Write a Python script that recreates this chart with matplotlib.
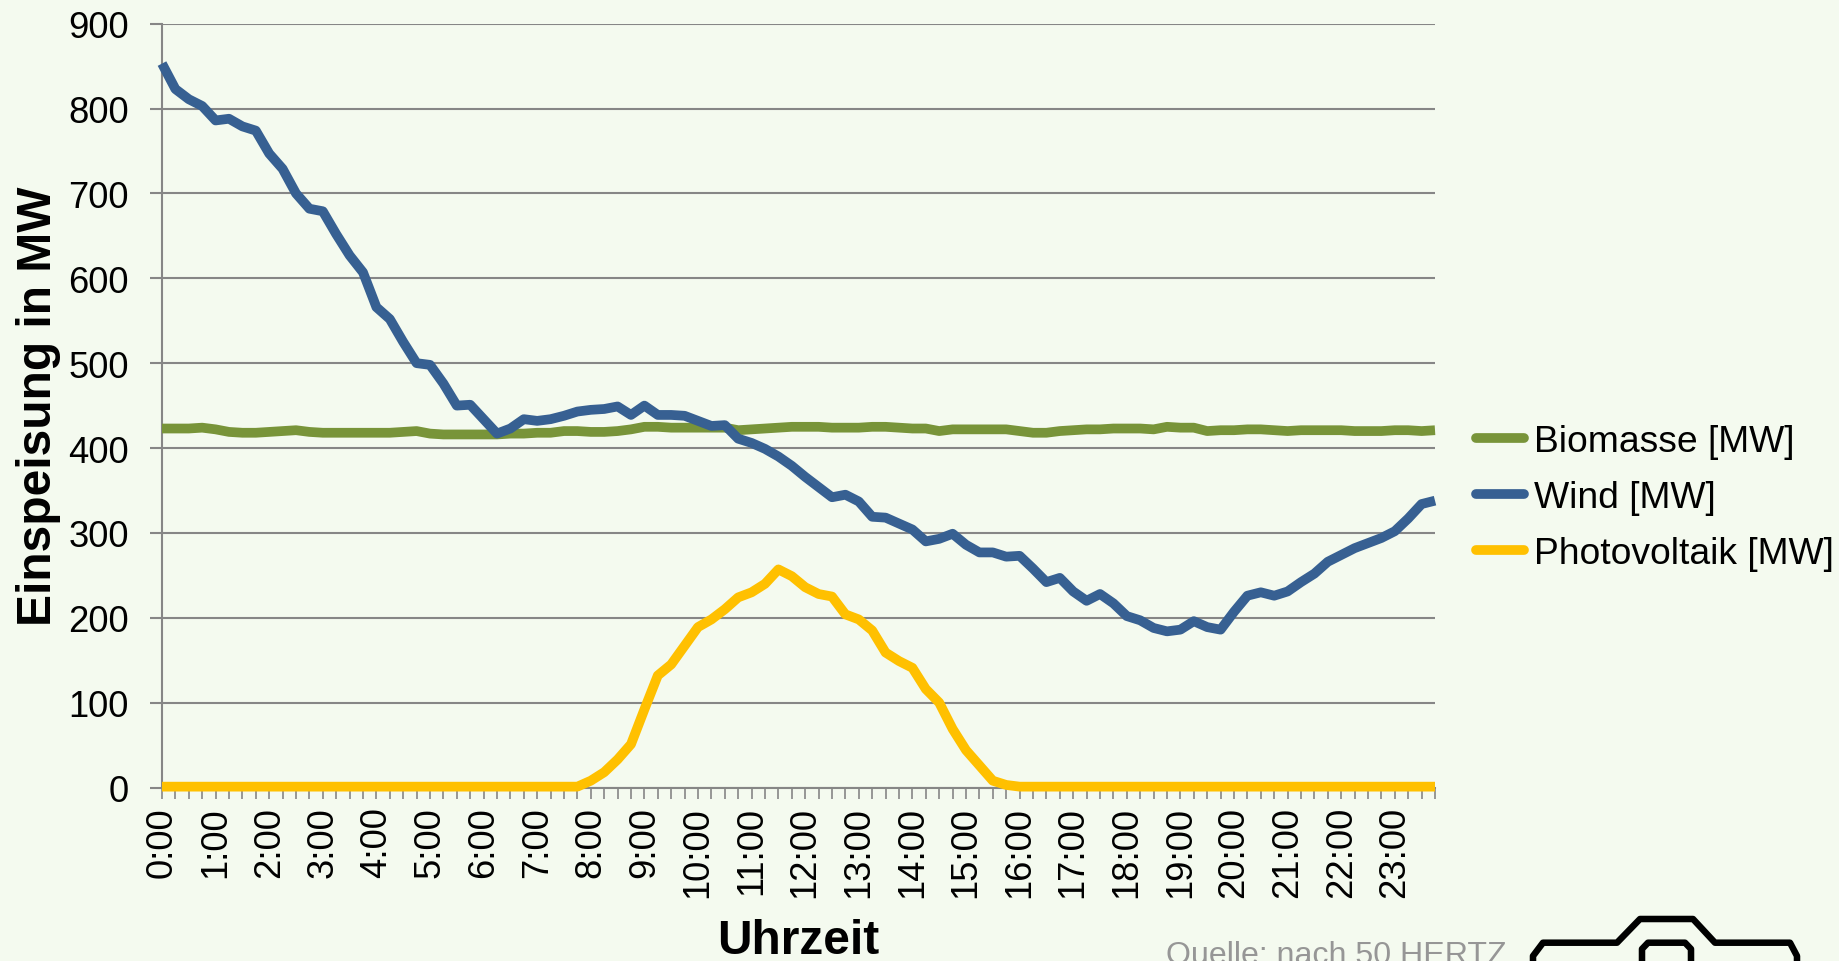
import matplotlib.pyplot as plt

plt.rcParams["font.family"] = ["Liberation Sans"]

wind = [
    853, 823, 811, 803, 786, 788, 779, 774, 747, 729, 700, 682, 679, 652, 627, 607,
    566, 552, 525, 500, 498, 476, 450, 451, 434, 417, 423, 434, 432, 434, 438, 443,
    445, 446, 449, 439, 450, 439, 439, 438, 432, 426, 427, 411, 406, 399, 390, 379,
    366, 354, 342, 345, 337, 319, 318, 311, 304, 290, 293, 299, 286, 277, 277, 272,
    273, 258, 242, 247, 231, 220, 228, 217, 202, 197, 188, 184, 186, 196, 189, 186,
    207, 226, 230, 226, 231, 242, 252, 266, 274, 282, 288, 294, 302, 317, 334, 338,
]
biomasse = [
    423, 423, 423, 424, 422, 419, 418, 418, 419, 420, 421, 419, 418, 418, 418, 418,
    418, 418, 419, 420, 417, 416, 416, 416, 416, 416, 417, 417, 418, 418, 420, 420,
    419, 419, 420, 422, 425, 425, 424, 424, 424, 424, 424, 421, 422, 423, 424, 425,
    425, 425, 424, 424, 424, 425, 425, 424, 423, 423, 420, 422, 422, 422, 422, 422,
    420, 418, 418, 420, 421, 422, 422, 423, 423, 423, 422, 425, 424, 424, 420, 421,
    421, 422, 422, 421, 420, 421, 421, 421, 421, 420, 420, 420, 421, 421, 420, 421,
]
pv = [1] * 32 + [
    8, 18, 33, 51, 92, 132, 145, 167, 189, 198, 210, 224, 230, 240, 257, 249,
    236, 228, 225, 204, 198, 185, 159, 149, 141, 116, 100, 69, 44, 26, 8, 3,
] + [1] * 32
hours = [f"{h}:00" for h in range(24)]

W, H = 1840, 962
bg = "#F4FAEF"
grey = "#868686"

fig = plt.figure(figsize=(W / 100, H / 100), dpi=100, facecolor=bg)
ax = fig.add_axes([162 / W, 1 - 788.5 / H, (1435 - 162) / W, (788.5 - 24.7) / H])
ax.set_facecolor(bg)

x = list(range(96))
ax.plot(x, biomasse, color="#789439", lw=7, label="Biomasse [MW]", clip_on=False,
        solid_capstyle="butt", solid_joinstyle="round", zorder=3)
ax.plot(x, wind, color="#376092", lw=7, label="Wind [MW]", clip_on=False,
        solid_capstyle="butt", solid_joinstyle="round", zorder=4)
ax.plot(x, pv, color="#FFC000", lw=7, label="Photovoltaik [MW]", clip_on=False,
        solid_capstyle="butt", solid_joinstyle="round", zorder=5)

ax.set_xlim(0, 95)
ax.set_ylim(0, 900)
ax.set_yticks(range(0, 901, 100))
ax.set_xticks(range(0, 96, 4))
ax.set_xticklabels(hours, rotation=90)
ax.set_xticks(range(96), minor=True)
ax.grid(axis="y", color=grey, lw=1.5)
ax.set_axisbelow(True)
for s in ["top", "right"]:
    ax.spines[s].set_visible(False)
for s in ["left", "bottom"]:
    ax.spines[s].set_color(grey)
    ax.spines[s].set_linewidth(1.5)
ax.tick_params(axis="y", length=8.5, width=1.5, color=grey, labelsize=26.2, pad=15.5)
ax.tick_params(axis="x", which="major", length=8, width=1.2, color=grey, labelsize=26.2, pad=5.5)
ax.tick_params(axis="x", which="minor", length=8, width=1.2, color=grey)

fig.text(39 / W, 1 - 406 / H, "Einspeisung in MW", rotation=90, fontsize=34.5, fontweight="bold",
         ha="center", va="center")
fig.text(798 / W, 1 - 942 / H, "Uhrzeit", fontsize=34.5, fontweight="bold", ha="center", va="center")
fig.text(1166 / W, 1 - 964 / H, "Quelle: nach 50 HERTZ", fontsize=23.1, color="#969696",
         ha="left", va="baseline")

leg = ax.legend(loc="center left", bbox_to_anchor=(1476 / W, 1 - 498.5 / H), bbox_transform=fig.transFigure,
                frameon=False, fontsize=26.8, handlelength=1.3, handletextpad=0.27, labelspacing=0.57,
                borderpad=0, borderaxespad=0)
for line in leg.get_lines():
    line.set_solid_capstyle("round")

# camera icon, cut off by the lower edge of the picture
cam_x = [1533, 1533, 1543, 1617, 1640, 1693, 1715, 1790, 1797, 1797]
cam_y = [975, 957, 943.7, 943.7, 920, 920, 943.7, 943.7, 957, 975]
fig.add_artist(plt.Line2D([v / W for v in cam_x], [1 - v / H for v in cam_y], color="black", lw=4.7,
                          solid_joinstyle="round"))
win_x = [1642, 1642, 1648, 1685, 1691, 1691]
win_y = [975, 950, 943.7, 943.7, 950, 975]
fig.add_artist(plt.Line2D([v / W for v in win_x], [1 - v / H for v in win_y], color="black", lw=4.7,
                          solid_joinstyle="round"))

fig.savefig("out.png", dpi=100, facecolor=bg)
